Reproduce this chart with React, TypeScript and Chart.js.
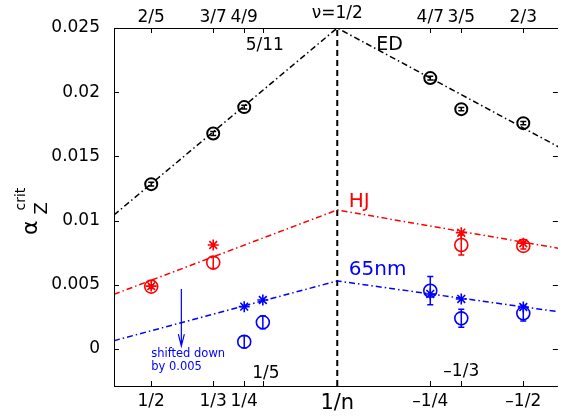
import { useEffect, useRef } from 'react';
import { Chart, registerables } from 'chart.js';

Chart.register(...registerables);

const FONT = '"DejaVu Sans", "Liberation Sans", sans-serif';

// x axis: 1/n (reversed, decreasing to the right)
const xPos = [0.5, 1 / 3, 0.25, 0.2, 0, -0.25, -1 / 3, -0.5];
const bottomLabels = ['1/2', '1/3', '1/4', '', '1/n', '–1/4', '', '–1/2'];
const topLabels = ['2/5', '3/7', '4/9', '', '', '4/7', '3/5', '2/3'];
const yTicks = [0, 0.005, 0.01, 0.015, 0.02, 0.025];

// ED (black)
const edX = [0.5, 1 / 3, 0.25, -0.25, -1 / 3, -0.5];
const edY = [0.01284, 0.01678, 0.01884, 0.0211, 0.01868, 0.01759];
const edErr = [0.00015, 0.00015, 0.00015, 0.00015, 0.00012, 0.00012];

// HJ (red)
const hjX = [0.5, 1 / 3, -1 / 3, -0.5];
const hjCircleY = [0.00486, 0.00673, 0.0081, 0.00803];
const hjCircleErr = [0.00015, 0.00045, 0.00078, 0.00025];
const hjStarY = [0.0049, 0.0081, 0.00906, 0.00824];

// 65nm (blue, shifted down by 0.005)
const nmX = [0.25, 0.2, -0.25, -1 / 3, -0.5];
const nmCircleY = [0.00057, 0.00208, 0.00454, 0.00239, 0.00278];
const nmCircleErr = [0.00047, 0.0005, 0.0011, 0.0007, 0.0006];
const nmStarY = [0.0033, 0.00382, 0.00429, 0.0039, 0.00327];

// dash-dot fit lines
const fitX = [0.6, 0, -0.6];
const edFit = [0.01044, 0.025, 0.01566];
const hjFit = [0.00426, 0.01083, 0.00782];
const nmFit = [0.00065, 0.0053, 0.00288];

const Y_MIN = -0.00288;
const Y_MAX = 0.025;
const X_MIN = -0.593;
const X_MAX = 0.6;

const pts = (xs: number[], ys: number[]) => xs.map((x, i) => ({ x, y: ys[i] }));
const labelFor = (labels: string[]) => (v: number) => {
  const i = xPos.findIndex((p) => Math.abs(p - v) < 1e-9);
  return i >= 0 ? labels[i] : '';
};

const DASHDOT = [6, 3, 1.5, 3];

const decorations = {
  id: 'decorations',
  afterDatasetsDraw(chart: any) {
    const { ctx, scales } = chart;
    const xs = scales.x;
    const ys = scales.y;
    // error bars
    chart.data.datasets.forEach((ds: any) => {
      if (!ds.yErr) return;
      ctx.save();
      ctx.strokeStyle = ds.borderColor;
      ctx.lineWidth = 1.5;
      ds.data.forEach((p: any, i: number) => {
        const e = ds.yErr[i];
        const px = xs.getPixelForValue(p.x);
        const y1 = ys.getPixelForValue(p.y - e);
        const y2 = ys.getPixelForValue(p.y + e);
        ctx.beginPath();
        ctx.moveTo(px, y1);
        ctx.lineTo(px, y2);
        ctx.moveTo(px - 3, y1);
        ctx.lineTo(px + 3, y1);
        ctx.moveTo(px - 3, y2);
        ctx.lineTo(px + 3, y2);
        ctx.stroke();
      });
      ctx.restore();
    });
  },
  afterDraw(chart: any) {
    const { ctx, chartArea: a, scales } = chart;
    const xs = scales.x;
    const ys = scales.y;
    ctx.save();
    // frame
    ctx.strokeStyle = '#000';
    ctx.lineWidth = 1;
    ctx.beginPath();
    ctx.moveTo(a.left + 0.5, a.bottom + 0.5);
    ctx.lineTo(a.left + 0.5, a.top + 0.5);
    ctx.lineTo(a.right, a.top + 0.5);
    ctx.moveTo(a.left, a.bottom + 0.5);
    ctx.lineTo(a.right, a.bottom + 0.5);
    yTicks.forEach((v) => {
      const py = Math.round(ys.getPixelForValue(v)) + 0.5;
      ctx.moveTo(a.left, py);
      ctx.lineTo(a.left + 5, py);
      ctx.moveTo(a.right, py);
      ctx.lineTo(a.right - 5, py);
    });
    xPos.forEach((v) => {
      if (v === 0) return;
      const px = Math.round(xs.getPixelForValue(v)) + 0.5;
      ctx.moveTo(px, a.bottom);
      ctx.lineTo(px, a.bottom - 5);
      ctx.moveTo(px, a.top);
      ctx.lineTo(px, a.top + 5);
    });
    ctx.stroke();

    // annotations
    const text = (s: string, x: number, y: number, size: number, color: string, align: CanvasTextAlign) => {
      ctx.font = `${size}px ${FONT}`;
      ctx.fillStyle = color;
      ctx.textAlign = align;
      ctx.textBaseline = 'alphabetic';
      ctx.fillText(s, x, y);
    };
    text('ν=1/2', xs.getPixelForValue(0), a.top - 10, 17, '#000', 'center');
    text('5/11', xs.getPixelForValue(0.2) + 2, ys.getPixelForValue(0.0233), 17, '#000', 'center');
    text('1/5', xs.getPixelForValue(0.2) + 3, ys.getPixelForValue(-0.00226), 17, '#000', 'center');
    text('–1/3', xs.getPixelForValue(-1 / 3), ys.getPixelForValue(-0.0021), 17, '#000', 'center');
    text('ED', xs.getPixelForValue(-0.105), ys.getPixelForValue(0.0233), 19, '#000', 'left');
    text('HJ', xs.getPixelForValue(-0.031), ys.getPixelForValue(0.01109), 20, '#ff0000', 'left');
    text('65nm', xs.getPixelForValue(-0.031), ys.getPixelForValue(0.00577), 20, '#0000ff', 'left');
    text('shifted down', xs.getPixelForValue(0.5), ys.getPixelForValue(-0.00062), 11.5, '#0000ff', 'left');
    text('by 0.005', xs.getPixelForValue(0.5), ys.getPixelForValue(-0.00164), 11.5, '#0000ff', 'left');

    // arrow
    const ax = xs.getPixelForValue(0.419);
    const ay1 = ys.getPixelForValue(0.00468);
    const ay2 = ys.getPixelForValue(0.00023);
    ctx.strokeStyle = '#0000ff';
    ctx.lineWidth = 1.2;
    ctx.beginPath();
    ctx.moveTo(ax, ay1);
    ctx.lineTo(ax, ay2);
    ctx.moveTo(ax - 3, ay2 - 12);
    ctx.lineTo(ax, ay2);
    ctx.lineTo(ax + 3, ay2 - 12);
    ctx.stroke();

    // y axis title: alpha_Z^crit
    ctx.translate(37, 235);
    ctx.rotate(-Math.PI / 2);
    ctx.fillStyle = '#000';
    ctx.textAlign = 'left';
    ctx.textBaseline = 'alphabetic';
    ctx.font = `22px ${FONT}`;
    ctx.fillText('α', 0, 0);
    const w = ctx.measureText('α').width;
    ctx.font = `18px ${FONT}`;
    ctx.fillText('Z', w + 6, 10);
    ctx.font = `14px ${FONT}`;
    ctx.fillText('crit', w + 10, -12);
    ctx.restore();
  },
};

export default function App() {
  const ref = useRef<HTMLCanvasElement>(null);
  useEffect(() => {
    if (!ref.current) return;
    const tickFont = (size: number) => ({ family: FONT, size });
    const chart = new Chart(ref.current, {
      type: 'scatter',
      data: {
        datasets: [
          {
            label: 'ED fit',
            data: pts(fitX, edFit),
            showLine: true,
            borderColor: '#000',
            borderWidth: 1.5,
            borderDash: DASHDOT,
            pointRadius: 0,
          },
          {
            label: 'HJ fit',
            data: pts(fitX, hjFit),
            showLine: true,
            borderColor: '#ff0000',
            borderWidth: 1.5,
            borderDash: DASHDOT,
            pointRadius: 0,
          },
          {
            label: '65nm fit',
            data: pts(fitX, nmFit),
            showLine: true,
            borderColor: '#0000ff',
            borderWidth: 1.5,
            borderDash: DASHDOT,
            pointRadius: 0,
          },
          {
            label: 'nu=1/2',
            data: [
              { x: 0, y: Y_MIN },
              { x: 0, y: Y_MAX },
            ],
            showLine: true,
            borderColor: '#000',
            borderWidth: 2,
            borderDash: [6, 4],
            pointRadius: 0,
          },
          {
            label: 'ED',
            data: pts(edX, edY),
            yErr: edErr,
            pointStyle: 'circle',
            pointRadius: 6,
            borderWidth: 2,
            borderColor: '#000',
            backgroundColor: 'rgba(0,0,0,0)',
          } as any,
          {
            label: 'HJ circles',
            data: pts(hjX, hjCircleY),
            yErr: hjCircleErr,
            pointStyle: 'circle',
            pointRadius: 6.5,
            borderWidth: 1.6,
            borderColor: '#ff0000',
            backgroundColor: 'rgba(0,0,0,0)',
          } as any,
          {
            label: 'HJ stars',
            data: pts(hjX, hjStarY),
            pointStyle: 'star',
            pointRadius: 5.5,
            borderWidth: 1.6,
            borderColor: '#ff0000',
          },
          {
            label: '65nm circles',
            data: pts(nmX, nmCircleY),
            yErr: nmCircleErr,
            pointStyle: 'circle',
            pointRadius: 6.5,
            borderWidth: 1.6,
            borderColor: '#0000ff',
            backgroundColor: 'rgba(0,0,0,0)',
          } as any,
          {
            label: '65nm stars',
            data: pts(nmX, nmStarY),
            pointStyle: 'star',
            pointRadius: 5.5,
            borderWidth: 1.6,
            borderColor: '#0000ff',
          },
        ],
      },
      options: {
        animation: false,
        responsive: false,
        devicePixelRatio: 1,
        events: [],
        layout: { padding: 0 },
        plugins: { legend: { display: false }, tooltip: { enabled: false } },
        scales: {
          x: {
            type: 'linear',
            position: 'bottom',
            min: X_MIN,
            max: X_MAX,
            reverse: true,
            grid: { display: false },
            border: { display: false },
            afterBuildTicks: (s: any) => {
              s.ticks = xPos.map((v) => ({ value: v }));
            },
            afterFit: (s: any) => {
              s.height = 31;
            },
            ticks: {
              autoSkip: false,
              maxRotation: 0,
              padding: -3,
              color: '#000',
              font: (c: any) => tickFont(c.tick && c.tick.value === 0 ? 21 : 17),
              callback: labelFor(bottomLabels),
            },
          },
          x2: {
            type: 'linear',
            axis: 'x',
            position: 'top',
            min: X_MIN,
            max: X_MAX,
            reverse: true,
            grid: { display: false },
            border: { display: false },
            afterBuildTicks: (s: any) => {
              s.ticks = xPos.map((v) => ({ value: v }));
            },
            afterFit: (s: any) => {
              s.height = 28;
            },
            ticks: {
              autoSkip: false,
              maxRotation: 0,
              padding: -8,
              color: '#000',
              font: tickFont(17),
              callback: labelFor(topLabels),
            },
          },
          y: {
            type: 'linear',
            position: 'left',
            min: Y_MIN,
            max: Y_MAX,
            grid: { display: false },
            border: { display: false },
            afterBuildTicks: (s: any) => {
              s.ticks = yTicks.map((v) => ({ value: v }));
            },
            afterFit: (s: any) => {
              s.width = 114;
            },
            ticks: {
              padding: 6,
              color: '#000',
              font: tickFont(17),
              callback: (v: any) => String(v),
            },
          },
        },
      } as any,
      plugins: [decorations],
    });
    return () => chart.destroy();
  }, []);
  return (
    <div style={{ position: 'absolute', left: 0, top: 0, width: 566, height: 417, background: '#fff' }}>
      <canvas ref={ref} width={566} height={417} style={{ width: 566, height: 417, display: 'block' }} />
    </div>
  );
}
